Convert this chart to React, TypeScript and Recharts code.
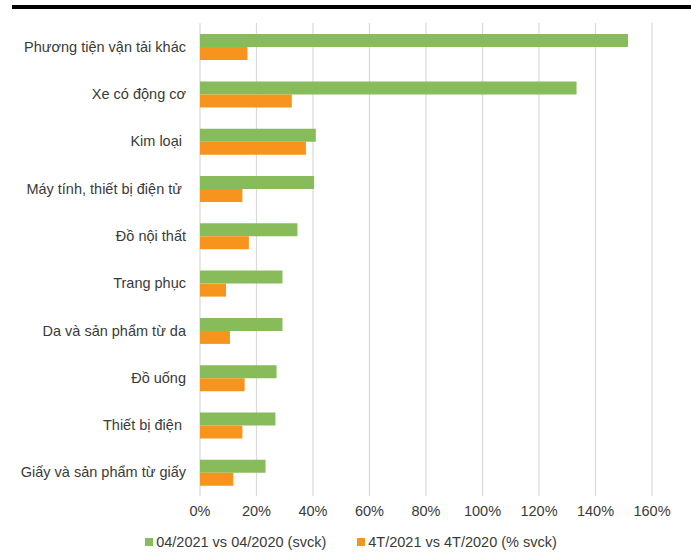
import { BarChart, Bar, XAxis, YAxis, CartesianGrid, Legend } from 'recharts'

const categories = [
  'Phương tiện vận tải khác',
  'Xe có động cơ',
  'Kim loại ',
  'Máy tính, thiết bị điện tử ',
  'Đồ nội thất',
  'Trang phục',
  'Da và sản phẩm từ da',
  'Đồ uống',
  'Thiết bị điện ',
  'Giấy và sản phẩm từ giấy',
]

// % tăng trưởng tháng 04/2021 so với 04/2020
const monthYoY = [151.5, 133.3, 41, 40.4, 34.5, 29.2, 29.2, 27.1, 26.7, 23.2]
// % tăng trưởng 4 tháng 2021 so với cùng kỳ
const ytdYoY = [16.8, 32.5, 37.5, 15, 17.3, 9.2, 10.6, 15.8, 15, 11.8]

const xTicks = [0, 20, 40, 60, 80, 100, 120, 140, 160]

const seriesNames = ['04/2021 vs 04/2020 (svck)', '4T/2021 vs 4T/2020 (% svck)']
const GREEN = '#88bc5a'
const ORANGE = '#f7941d'
const TEXT = '#3a3a3a'
const FONT = '"Liberation Sans", Arial, sans-serif'

const data = categories.map((name, i) => ({
  name,
  month: monthYoY[i],
  ytd: ytdYoY[i],
}))

const CategoryTick = ({ x, y, payload }: any) => (
  <text
    x={x}
    y={y}
    dy="0.35em"
    textAnchor="end"
    fill={TEXT}
    fontSize={14.5}
    fontFamily={FONT}
    style={{ whiteSpace: 'pre' }}
  >
    {payload.value}
  </text>
)

const LegendContent = () => (
  <div
    style={{
      height: 28,
      boxSizing: 'border-box',
      paddingTop: 8,
      paddingLeft: 50,
      display: 'flex',
      justifyContent: 'center',
      alignItems: 'center',
      gap: 31,
      fontFamily: FONT,
      fontSize: 14.5,
      color: TEXT,
    }}
  >
    {[GREEN, ORANGE].map((c, i) => (
      <span key={i} style={{ display: 'flex', alignItems: 'center', gap: 3 }}>
        <span style={{ width: 8, height: 8, background: c, display: 'inline-block' }} />
        <span>{seriesNames[i]}</span>
      </span>
    ))}
  </div>
)

export default function App() {
  return (
    <div style={{ position: 'absolute', left: 0, top: 0, width: 691, height: 552, background: '#fff' }}>
      <div style={{ position: 'absolute', left: 12, top: 5, width: 679, height: 4, background: '#000' }} />
      <BarChart
        width={691}
        height={552}
        data={data}
        layout="vertical"
        margin={{ top: 23, right: 39, bottom: 0, left: 0 }}
        barCategoryGap="23.5%"
        barGap={0}
      >
        <CartesianGrid horizontal={false} stroke="#d9d9d9" strokeWidth={1.2} />
        <XAxis
          type="number"
          domain={[0, 160]}
          ticks={xTicks}
          tickFormatter={(v: number) => `${v}%`}
          axisLine={false}
          tickLine={false}
          tickMargin={4}
          height={28}
          tick={{ fontSize: 14.5, fill: TEXT, fontFamily: FONT }}
        />
        <YAxis
          type="category"
          dataKey="name"
          width={200}
          axisLine={false}
          tickLine={false}
          tickMargin={8}
          interval={0}
          tick={<CategoryTick />}
        />
        <Legend verticalAlign="bottom" height={28} content={<LegendContent />} />
        <Bar dataKey="month" name={seriesNames[0]} fill={GREEN} isAnimationActive={false} />
        <Bar dataKey="ytd" name={seriesNames[1]} fill={ORANGE} isAnimationActive={false} />
      </BarChart>
    </div>
  )
}
